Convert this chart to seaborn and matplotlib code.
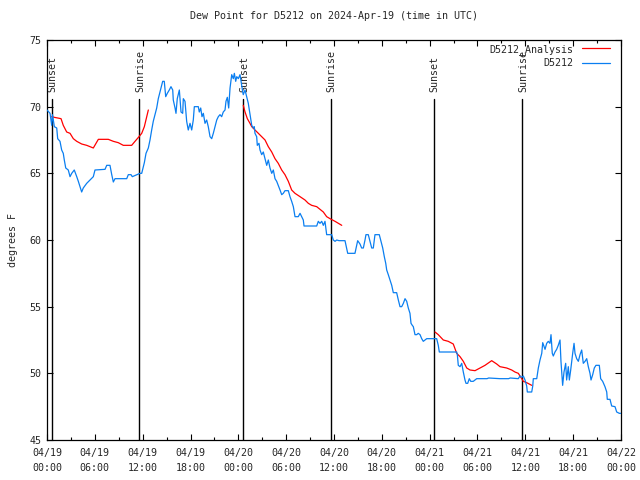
import numpy as np
import pandas as pd
import matplotlib
matplotlib.use("Agg")
import matplotlib.pyplot as plt
import seaborn as sns

# ---- data (hours since 04/19 00:00 UTC, dew point in F) ----
obs_hours = [0.0, 0.38, 0.59, 0.69, 0.92, 1.22, 1.34, 1.63, 1.84, 2.04, 2.17, 2.35, 2.67, 2.89,
             3.10, 3.42, 3.73, 3.93, 4.14, 4.35, 4.55, 4.98, 5.39, 5.81, 6.02, 7.28, 7.49, 7.90,
             8.12, 8.32, 8.53, 10.0, 10.2, 10.54, 10.70, 11.67, 11.88, 12.21, 12.42, 12.71, 12.92,
             13.13, 13.33, 13.55, 13.76, 13.96, 14.17, 14.39, 14.51, 14.71, 14.89, 15.09, 15.34,
             15.55, 15.77, 15.84, 16.06, 16.18, 16.34, 16.60, 16.81, 17.02, 17.10, 17.31, 17.52,
             17.72, 17.94, 18.15, 18.35, 18.48, 18.98, 19.10, 19.28, 19.44, 19.61, 19.82, 20.03,
             20.23, 20.45, 20.66, 20.86, 21.07, 21.29, 21.49, 21.70, 21.91, 22.11, 22.33, 22.45,
             22.62, 22.79, 22.96, 23.17, 23.37, 23.50, 23.67, 23.80, 24.00, 24.21, 24.42, 24.55,
             24.62, 24.84, 25.05, 25.25, 25.38, 25.55, 25.68, 25.88, 26.00, 26.09, 26.30, 26.38,
             26.59, 26.72, 26.93, 27.13, 27.35, 27.56, 27.76, 27.97, 28.19, 28.39, 28.60, 28.81,
             29.01, 29.23, 29.44, 29.64, 29.85, 30.27, 30.48, 30.69, 30.90, 31.11, 31.52, 31.74,
             31.95, 32.15, 32.24, 33.83, 34.03, 34.24, 34.46, 34.66, 34.87, 35.08, 35.71, 35.91,
             36.13, 36.34, 36.63, 37.38, 37.72, 38.63, 38.97, 39.26, 39.47, 39.68, 39.89, 40.01,
             40.30, 40.52, 40.73, 40.93, 41.14, 41.68, 41.90, 42.11, 42.31, 42.49, 42.61, 42.81,
             43.02, 43.24, 43.44, 43.86, 44.07, 44.28, 44.49, 44.70, 44.91, 45.12, 45.32, 45.53,
             45.66, 45.82, 45.95, 46.16, 46.37, 46.57, 46.79, 47.00, 47.20, 47.41, 47.63, 48.88,
             49.08, 49.21, 51.39, 51.47, 51.59, 51.81, 52.02, 52.22, 52.43, 52.56, 52.77, 52.97,
             53.15, 53.47, 53.90, 55.2, 55.4, 56.82, 57.9, 58.1, 59.12, 59.33, 59.55, 59.75,
             59.96, 60.17, 60.25, 60.80, 60.93, 61.00, 61.43, 61.63, 61.84, 62.06, 62.18, 62.35,
             62.47, 62.68, 62.88, 63.09, 63.22, 63.38, 63.51, 63.72, 63.93, 64.13, 64.35, 64.47,
             64.68, 64.85, 65.06, 65.18, 65.39, 65.52, 65.69, 65.82, 65.94, 66.11, 66.23, 66.44,
             66.65, 66.86, 67.07, 67.27, 67.49, 67.70, 67.90, 68.11, 68.24, 68.45, 68.65, 68.86,
             69.28, 69.45, 69.70, 69.99, 70.21, 70.28, 70.62, 70.83, 71.25, 71.46, 71.79, 71.96]
obs_values = [69.75, 69.5, 68.6, 69.4, 68.5, 68.4, 67.6, 67.4, 66.75, 66.5, 66.0, 65.4, 65.25, 64.75,
              65.0, 65.25, 64.75, 64.4, 64.0, 63.6, 63.9, 64.25, 64.5, 64.75, 65.25, 65.3, 65.6, 65.6,
              64.9, 64.35, 64.6, 64.6, 64.9, 64.9, 64.75, 65.0, 65.0, 65.8, 66.5, 66.9, 67.5,
              68.25, 68.9, 69.4, 69.9, 70.6, 71.1, 71.6, 71.9, 71.9, 70.75, 71.0, 71.25,
              71.5, 71.25, 70.5, 69.9, 69.5, 70.6, 71.25, 69.6, 69.5, 70.6, 70.4, 68.9,
              68.25, 68.75, 68.25, 69.0, 70.0, 70.0, 69.6, 69.9, 69.25, 69.5, 68.75, 69.0,
              68.5, 67.75, 67.6, 68.0, 68.5, 69.0, 69.25, 69.4, 69.25, 69.6, 69.75, 70.4,
              70.7, 69.9, 71.4, 72.4, 72.1, 72.5, 71.9, 72.25, 72.1, 72.4, 71.6, 71.1,
              70.9, 71.25, 70.75, 70.25, 69.75, 69.1, 68.6, 68.4, 68.5, 68.0, 67.75, 67.1,
              67.25, 66.75, 66.4, 66.6, 66.1, 65.6, 66.0, 65.4, 65.0, 65.25, 64.6, 64.4,
              64.1, 63.75, 63.4, 63.5, 63.7, 63.7, 63.25, 62.9, 62.5, 61.75, 61.75, 62.0,
              61.75, 61.5, 61.05, 61.05, 61.4, 61.25, 61.4, 61.1, 61.4, 60.4, 60.4, 60.0,
              59.9, 60.0, 59.95, 59.95, 59.0, 59.0, 59.95, 59.7, 59.4, 59.4, 60.0, 60.4,
              60.4, 59.9, 59.4, 59.4, 60.4, 60.4, 59.9, 59.4, 58.75, 58.25, 57.75, 57.4,
              57.0, 56.6, 56.05, 56.05, 55.5, 55.0, 55.0, 55.25, 55.6, 55.4, 54.9, 54.5,
              53.75, 53.6, 53.5, 52.9, 52.9, 53.0, 52.9, 52.6, 52.4, 52.5, 52.6, 52.6,
              52.1, 51.6, 51.6, 51.4, 50.6, 50.5, 50.75, 50.1, 49.5, 49.25, 49.25, 49.6,
              49.4, 49.4, 49.6, 49.6, 49.65, 49.6, 49.6, 49.65, 49.6, 49.8, 49.7, 49.8,
              49.5, 49.05, 48.6, 48.6, 49.05, 49.6, 49.6, 50.4, 51.0, 51.5, 52.3, 52.0,
              51.8, 52.25, 52.4, 52.25, 52.9, 51.5, 51.3, 51.6, 51.8, 52.1, 52.5, 50.9,
              49.1, 50.1, 50.75, 49.5, 50.5, 49.5, 50.25, 50.9, 51.5, 52.25, 51.5, 51.1,
              50.9, 51.4, 51.75, 50.75, 50.9, 51.1, 50.5, 50.0, 49.5, 49.9, 50.4, 50.6,
              50.6, 49.6, 49.4, 49.0, 48.6, 48.05, 48.05, 47.55, 47.5, 47.1, 47.0, 47.0]

ana_hours_1 = [0.59, 0.92, 1.76, 2.04, 2.47, 2.89, 3.30, 3.73, 4.35, 4.98, 5.81, 6.44, 7.69,
               8.32, 8.94, 9.57, 10.62, 11.04, 11.54, 11.88, 12.21, 12.71]
ana_values_1 = [69.25, 69.2, 69.1, 68.6, 68.1, 68.0, 67.6, 67.4, 67.2, 67.1, 66.9, 67.55, 67.55,
                67.4, 67.3, 67.1, 67.1, 67.4, 67.75, 68.0, 68.5, 69.75]
ana_hours_2 = [24.62, 24.84, 25.13, 25.46, 25.68, 26.09, 26.51, 26.93, 27.35, 27.76, 28.19, 28.60,
               29.01, 29.44, 29.85, 30.27, 30.69, 31.11, 31.74, 32.36, 32.78, 33.20, 33.83, 34.66,
               35.08, 35.50, 36.13, 36.97]
ana_values_2 = [70.1, 69.6, 69.1, 68.75, 68.5, 68.25, 68.0, 67.75, 67.5, 67.0, 66.6, 66.1,
                65.75, 65.25, 64.9, 64.4, 63.75, 63.5, 63.25, 63.0, 62.75, 62.6, 62.5, 62.1,
                61.75, 61.6, 61.4, 61.1]
ana_hours_3 = [48.67, 49.08, 49.71, 50.33, 50.96, 51.39, 51.81, 52.22, 52.65, 53.06, 53.69, 54.32,
               54.94, 55.78, 56.41, 56.82, 57.66, 58.29, 58.70, 59.12, 59.33, 59.55, 59.75, 60.17,
               60.80]
ana_values_3 = [53.1, 52.9, 52.5, 52.4, 52.2, 51.5, 51.25, 50.9, 50.4, 50.25, 50.2, 50.4,
                50.6, 50.95, 50.7, 50.5, 50.4, 50.25, 50.1, 50.0, 49.8, 49.6, 49.4, 49.3,
                49.1]

event_hours = [0.59, 11.58, 24.62, 35.62, 48.55, 59.6]
event_labels = ["Sunset", "Sunrise", "Sunset", "Sunrise", "Sunset", "Sunrise"]

xtick_hours = [0, 6, 12, 18, 24, 30, 36, 42, 48, 54, 60, 66, 72]
xtick_labels = ["04/19\n00:00", "04/19\n06:00", "04/19\n12:00", "04/19\n18:00",
                "04/20\n00:00", "04/20\n06:00", "04/20\n12:00", "04/20\n18:00",
                "04/21\n00:00", "04/21\n06:00", "04/21\n12:00", "04/21\n18:00",
                "04/22\n00:00"]
ytick_values = [45, 50, 55, 60, 65, 70, 75]

series_names = ["D5212_Analysis", "D5212"]
title = "Dew Point for D5212 on 2024-Apr-19 (time in UTC)"
ylabel = "degrees F"

# ---- styling ----
sns.set_style("ticks")
plt.rcParams["font.family"] = ["DejaVu Sans Mono", "DejaVu Sans"]
plt.rcParams["font.size"] = 7.2

fig = plt.figure(figsize=(6.4, 4.8), dpi=100)
ax = fig.add_axes([47 / 640, 1 - 440 / 480, (621 - 47) / 640, 400 / 480])

obs = pd.DataFrame({"hour": obs_hours, "value": obs_values})
ana = pd.concat([
    pd.DataFrame({"hour": ana_hours_1, "value": ana_values_1, "seg": 1}),
    pd.DataFrame({"hour": ana_hours_2, "value": ana_values_2, "seg": 2}),
    pd.DataFrame({"hour": ana_hours_3, "value": ana_values_3, "seg": 3}),
], ignore_index=True)

red = "#ff0000"
blue = "#0a7ef0"
sns.lineplot(data=ana, x="hour", y="value", units="seg", estimator=None, sort=False,
             color=red, lw=0.9, ax=ax, zorder=3)
sns.lineplot(data=obs, x="hour", y="value", estimator=None, sort=False,
             color=blue, lw=0.9, ax=ax, zorder=3)

# sunrise / sunset markers
for h, lab in zip(event_hours, event_labels):
    ax.plot([h, h], [70.55, 45], color="black", lw=1.0, zorder=2)
    ax.text(h + 0.1, 71.1, lab, rotation=90, ha="center", va="bottom", fontsize=7.2, zorder=1)

ax.set_xlim(0, 72)
ax.set_ylim(45, 75)
ax.set_xticks(xtick_hours)
ax.set_xticklabels(xtick_labels, linespacing=1.6)
ax.set_yticks(ytick_values)
ax.set_xticks(np.arange(0, 73, 3), minor=True)

ax.tick_params(axis="both", which="both", direction="in", top=True, right=True,
               color="black", width=0.8)
ax.tick_params(axis="both", which="major", length=4)
ax.tick_params(axis="x", which="minor", length=2.5)
ax.tick_params(axis="x", which="major", pad=6)
ax.tick_params(axis="y", which="major", pad=4)

for s in ax.spines.values():
    s.set_color("black")
    s.set_linewidth(0.9)

ax.set_xlabel("")
ax.set_ylabel(ylabel, labelpad=8)
ax.set_title(title, pad=15, fontsize=7.2)

handles = [plt.Line2D([], [], color=red, lw=0.9), plt.Line2D([], [], color=blue, lw=0.9)]
leg = ax.legend(handles, series_names, loc="upper right", bbox_to_anchor=(1 - 8 / 574, 0.998),
                markerfirst=False, frameon=False,
                handlelength=2.8, borderaxespad=0.0, borderpad=0.3, handletextpad=0.9,
                labelspacing=0.35)
leg.set_zorder(5)

fig.savefig("out.png", dpi=100)
